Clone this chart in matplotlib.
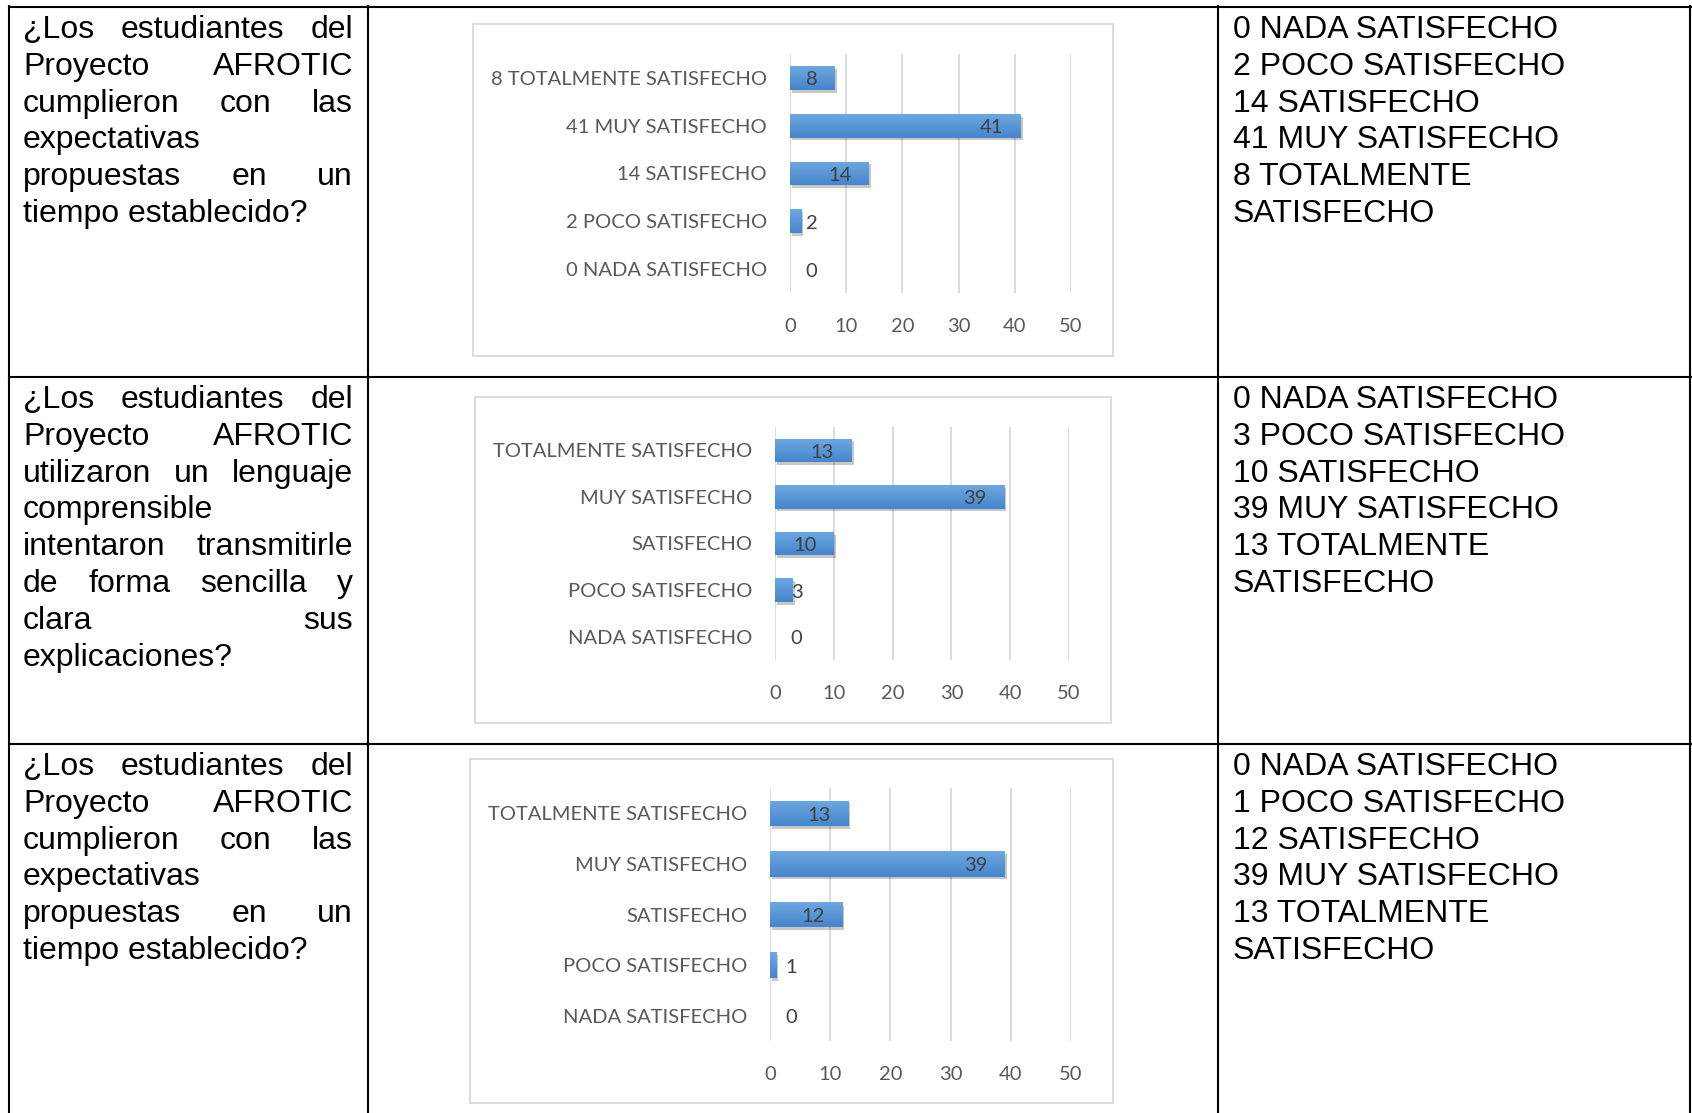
import numpy as np
import matplotlib.pyplot as plt
from matplotlib.patches import Rectangle
import matplotlib.patheffects as pe

W, H = 1692, 1113

# data
categories = ['NADA SATISFECHO', 'POCO SATISFECHO', 'SATISFECHO',
              'MUY SATISFECHO', 'TOTALMENTE SATISFECHO']
labels_1 = ['0 NADA SATISFECHO', '2 POCO SATISFECHO', '14 SATISFECHO',
            '41 MUY SATISFECHO', '8 TOTALMENTE SATISFECHO']
values_1 = [0, 2, 14, 41, 8]
values_2 = [0, 3, 10, 39, 13]
values_3 = [0, 1, 12, 39, 13]
xticks = [0, 10, 20, 30, 40, 50]

question_1 = ['¿Los estudiantes del', 'Proyecto AFROTIC', 'cumplieron con las',
              'expectativas', 'propuestas en un', 'tiempo establecido?']
question_2 = ['¿Los estudiantes del', 'Proyecto AFROTIC', 'utilizaron un lenguaje',
              'comprensible', 'intentaron transmitirle', 'de forma sencilla y',
              'clara sus', 'explicaciones?']
question_3 = question_1

summary_1 = ['0 NADA SATISFECHO', '2 POCO SATISFECHO', '14 SATISFECHO',
             '41 MUY SATISFECHO', '8 TOTALMENTE', 'SATISFECHO']
summary_2 = ['0 NADA SATISFECHO', '3 POCO SATISFECHO', '10 SATISFECHO',
             '39 MUY SATISFECHO', '13 TOTALMENTE', 'SATISFECHO']
summary_3 = ['0 NADA SATISFECHO', '1 POCO SATISFECHO', '12 SATISFECHO',
             '39 MUY SATISFECHO', '13 TOTALMENTE', 'SATISFECHO']

fig = plt.figure(figsize=(W / 100, H / 100), dpi=100)
r = fig.canvas.get_renderer()


def fx(px):
    return px / W


def fy(py):
    return 1 - py / H


body = dict(family=['Liberation Sans', 'DejaVu Sans'], fontsize=23, color='black', va='baseline')
chart_font = ['Lato', 'DejaVu Sans']
cfs = 14.5

# table grid
for y in [7, 377, 744]:
    fig.add_artist(plt.Line2D([fx(9), fx(1691)], [fy(y), fy(y)], color='black', lw=1.5))
for x in [9, 368, 1218, 1690]:
    fig.add_artist(plt.Line2D([fx(x), fx(x)], [fy(6), fy(1113)], color='black', lw=1.5))


def put_lines(lines, x_left, x_right, y_base, pitch, justify=True):
    for i, line in enumerate(lines):
        y = fy(y_base + i * pitch)
        words = line.split()
        last = i == len(lines) - 1
        if not justify or last or len(words) == 1:
            fig.text(fx(x_left), y, line, **body)
            continue
        ts = [fig.text(0, y, w, **body) for w in words]
        ws = [t.get_window_extent(r).width for t in ts]
        gap = (x_right - x_left - sum(ws)) / (len(words) - 1)
        x = x_left
        for t, w in zip(ts, ws):
            t.set_x(fx(x))
            x += w + gap


pitch = 36.8
put_lines(question_1, 23, 353, 38, pitch)
put_lines(question_2, 23, 353, 408, pitch)
put_lines(question_3, 23, 353, 775, pitch)
put_lines(summary_1, 1233, 1680, 38, pitch, justify=False)
put_lines(summary_2, 1233, 1680, 408, pitch, justify=False)
put_lines(summary_3, 1233, 1680, 775, pitch, justify=False)


def bar_chart(box, x0, x50, top, bottom, values, cats):
    bx0, by0, bx1, by1 = box
    fig.add_artist(Rectangle((fx(bx0), fy(by1)), (bx1 - bx0) / W, (by1 - by0) / H,
                             transform=fig.transFigure, fill=False,
                             edgecolor='#D9D9D9', lw=1.3))
    ax = fig.add_axes([fx(x0), fy(bottom), (x50 - x0) / W, (bottom - top) / H])
    ypos = np.arange(len(values))
    bh = 0.5
    bars = ax.barh(ypos, values, height=bh, color='#5B9BD5', zorder=2,
                   path_effects=[pe.SimplePatchShadow(offset=(1.5, -2), shadow_rgbFace='black', alpha=0.22),
                                 pe.Normal()])
    grad = np.linspace(0, 1, 50).reshape(-1, 1)
    top_c = np.array([110, 168, 224]) / 255
    bot_c = np.array([70, 133, 204]) / 255
    img = top_c[None, None, :] * (1 - grad[..., None]) + bot_c[None, None, :] * grad[..., None]
    for b, v, y in zip(bars, values, ypos):
        if v > 0:
            im = ax.imshow(img, extent=[0, v, y - bh / 2, y + bh / 2], origin='upper',
                           aspect='auto', zorder=3)
            im.set_clip_path(b)
        if v >= 6:
            ax.annotate(str(v), (v, y), xytext=(-12.5, -1.5), textcoords='offset points',
                        ha='right', va='center', fontsize=cfs, color='#404040',
                        family=chart_font, zorder=4)
        else:
            ax.annotate(str(v), (0, y), xytext=(15.5, -1.5), textcoords='offset points',
                        ha='center', va='center', fontsize=cfs, color='#404040',
                        family=chart_font, zorder=4)
    ax.set_xlim(0, 50)
    ax.set_ylim(-0.5, len(values) - 0.5)
    ax.set_xticks(xticks)
    ax.set_xticklabels([str(t) for t in xticks], family=chart_font, fontsize=cfs, color='#595959')
    ax.set_yticks(ypos)
    ax.set_yticklabels(cats, family=chart_font, fontsize=cfs, color='#595959')
    ax.tick_params(length=0)
    ax.tick_params(axis='y', pad=16.5)
    ax.tick_params(axis='x', pad=18)
    ax.grid(axis='x', color='#D9D9D9', lw=1.3, zorder=0)
    ax.set_axisbelow(True)
    for s in ax.spines.values():
        s.set_visible(False)
    ax.patch.set_alpha(0)
    return ax


bar_chart((473, 24, 1113, 356), 790, 1071, 54, 293, values_1, labels_1)
bar_chart((475, 397, 1111, 723), 775, 1069, 427, 660, values_2, categories)
bar_chart((470, 759, 1113, 1103), 770, 1071, 788, 1041, values_3, categories)

fig.savefig('out.png', dpi=100, facecolor='white')
